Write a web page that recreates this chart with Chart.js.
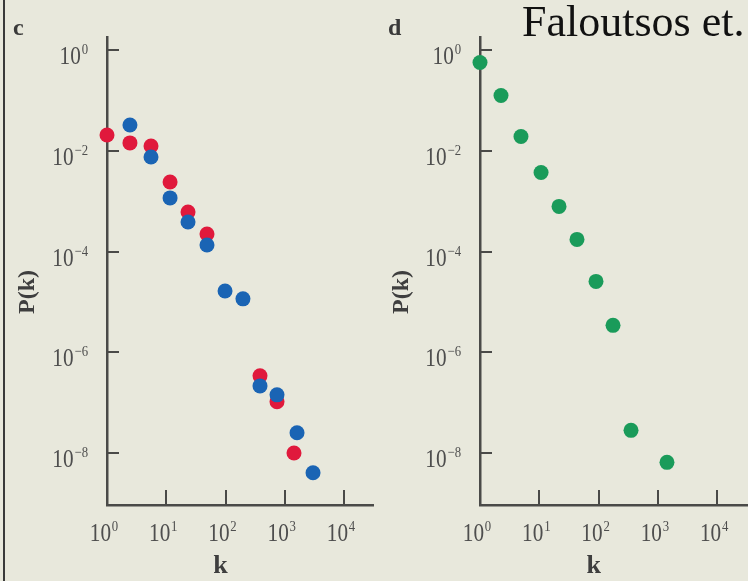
<!DOCTYPE html>
<html>
<head>
<meta charset="utf-8">
<script src="https://cdn.jsdelivr.net/npm/chart.js@4.4.0/dist/chart.umd.min.js"></script>
<style>
  body { margin: 0; background: #e8e8dc; }
  #fig { position: relative; width: 748px; height: 581px; overflow: hidden; background: #e8e8dc; }
  #fig canvas { position: absolute; top: 0; }
  .edge { position: absolute; left: 3px; top: 0; width: 2px; height: 581px; background: #3a3a3a; }
  .tag { position: absolute; top: 15px; font: bold 24px "Liberation Serif", serif; line-height: 1; color: #3a3a3a; }
  .credit { position: absolute; left: 522px; top: 0; font: 44px "Liberation Serif", serif; line-height: 1; color: #111; white-space: nowrap; }
</style>
</head>
<body>
<div id="fig">
  <canvas id="chartC" width="374" height="581" style="left:0"></canvas>
  <canvas id="chartD" width="374" height="581" style="left:374px"></canvas>
  <div class="edge"></div>
  <div class="tag" style="left:13px">c</div>
  <div class="tag" style="left:388px">d</div>
  <div class="credit">Faloutsos et.</div>
</div>
<script>
// tick values
const xTicks = [1, 10, 100, 1000, 10000];
const yTicks = [1e-8, 1e-6, 1e-4, 1e-2, 1];

// panel c, red series
const kRed = [1, 2.44, 5.53, 11.6, 23.3, 48.7, 382, 740, 1432];
const pRed = [0.0206, 0.0143, 0.0124, 0.0024, 6.1e-4, 2.23e-4, 3.4e-7, 1.04e-7, 1.0e-8];

// panel c, blue series
const kBlue = [2.44, 5.53, 11.6, 23.3, 48.7, 98.2, 197, 382, 740, 1611, 3000];
const pBlue = [0.0325, 0.00753, 0.00116, 3.86e-4, 1.35e-4, 1.65e-5, 1.15e-5, 2.15e-7, 1.43e-7, 2.52e-8, 4.05e-9];

// panel d, green series
const kGreen = [1, 2.26, 4.91, 10.7, 21.5, 43.2, 90.4, 175, 352, 1422];
const pGreen = [0.565, 0.125, 0.0192, 0.00371, 7.85e-4, 1.74e-4, 2.55e-5, 3.42e-6, 2.82e-8, 6.53e-9];

const axisColor = '#4a4a48';
const labelColor = '#4e4e4e';
const BASE_FONT = '25px "Liberation Serif", serif';
const EXP_FONT = '15px "Liberation Serif", serif';
const SX = 0.85; // the printed labels are a narrow face

function toPoints(ks, ps) {
  return ks.map((k, i) => ({ x: k, y: ps[i] }));
}

// "10" with a raised exponent
function drawPow(ctx, v, x, y, align) {
  const e = String(Math.round(Math.log10(v))).replace('-', '\u2212');
  ctx.font = BASE_FONT;
  const wb = ctx.measureText('10').width;
  ctx.font = EXP_FONT;
  const we = ctx.measureText(e).width;
  const total = (wb + 1 + we) * SX;
  const left = align === 'right' ? x - total : x - total / 2;
  ctx.save();
  ctx.translate(left, y);
  ctx.scale(SX, 1);
  ctx.font = BASE_FONT;
  ctx.fillText('10', 0, 0);
  ctx.font = EXP_FONT;
  ctx.fillText(e, wb + 1, -10);
  ctx.restore();
}

// inward ticks and axis titles, under the dots
const axisDecor = {
  id: 'axisDecor',
  beforeDatasetsDraw(chart) {
    const { ctx, chartArea, scales } = chart;
    ctx.save();
    ctx.strokeStyle = axisColor;
    ctx.lineWidth = 2;
    ctx.beginPath();
    yTicks.forEach(v => {
      const y = Math.round(scales.y.getPixelForValue(v));
      ctx.moveTo(chartArea.left, y);
      ctx.lineTo(chartArea.left + 12, y);
    });
    xTicks.slice(1).forEach(v => {
      const x = Math.round(scales.x.getPixelForValue(v));
      ctx.moveTo(x, chartArea.bottom);
      ctx.lineTo(x, chartArea.bottom - 15);
    });
    ctx.stroke();

    ctx.fillStyle = '#3e3e3e';
    ctx.textAlign = 'center';
    ctx.textBaseline = 'middle';
    ctx.font = 'bold 26px "Liberation Serif", serif';
    ctx.fillText('k', scales.x.getPixelForValue(100) - 5, 566);
    ctx.translate(28, 292);
    ctx.rotate(-Math.PI / 2);
    ctx.font = 'bold 24px "Liberation Serif", serif';
    ctx.fillText('P(k)', 0, 0);
    ctx.restore();
  },
  afterDraw(chart) {
    const { ctx, chartArea, scales } = chart;
    ctx.save();
    ctx.fillStyle = labelColor;
    ctx.textAlign = 'left';
    ctx.textBaseline = 'alphabetic';
    yTicks.forEach(v => {
      drawPow(ctx, v, chartArea.left - 19, scales.y.getPixelForValue(v) + 14, 'right');
    });
    xTicks.forEach(v => {
      drawPow(ctx, v, scales.x.getPixelForValue(v) - 3, chartArea.bottom + 36, 'center');
    });
    ctx.restore();
  }
};

function panelOptions(xMax, yWidth, rightPad) {
  return {
    responsive: false,
    animation: false,
    layout: { autoPadding: false, padding: { top: 37, right: rightPad, left: 0, bottom: 0 } },
    plugins: { legend: { display: false }, tooltip: { enabled: false } },
    scales: {
      x: {
        type: 'logarithmic',
        min: 1,
        max: xMax,
        afterBuildTicks: s => { s.ticks = xTicks.map(v => ({ value: v })); },
        afterFit: s => { s.height = 76; },
        grid: { display: false, drawTicks: false },
        border: { display: true, color: axisColor, width: 2.5 },
        ticks: { display: false }
      },
      y: {
        type: 'logarithmic',
        min: 9.3e-10,
        max: 1.81,
        afterBuildTicks: s => { s.ticks = yTicks.map(v => ({ value: v })); },
        afterFit: s => { s.width = yWidth; },
        grid: { display: false, drawTicks: false },
        border: { display: true, color: axisColor, width: 2.5 },
        ticks: { display: false }
      }
    }
  };
}

const dot = { pointRadius: 7.5, pointBorderWidth: 0, clip: false, showLine: false };

new Chart(document.getElementById('chartC'), {
  type: 'scatter',
  data: {
    datasets: [
      { label: 'blue', data: toPoints(kBlue, pBlue), backgroundColor: '#1a64b4', ...dot },
      { label: 'red', data: toPoints(kRed, pRed), backgroundColor: '#e0193c', ...dot }
    ]
  },
  options: panelOptions(30850, 107, 1),
  plugins: [axisDecor]
});

new Chart(document.getElementById('chartD'), {
  type: 'scatter',
  data: {
    datasets: [
      { label: 'green', data: toPoints(kGreen, pGreen), backgroundColor: '#1a9b5a', ...dot }
    ]
  },
  options: panelOptions(33050, 106, 0),
  plugins: [axisDecor]
});
</script>
</body>
</html>
